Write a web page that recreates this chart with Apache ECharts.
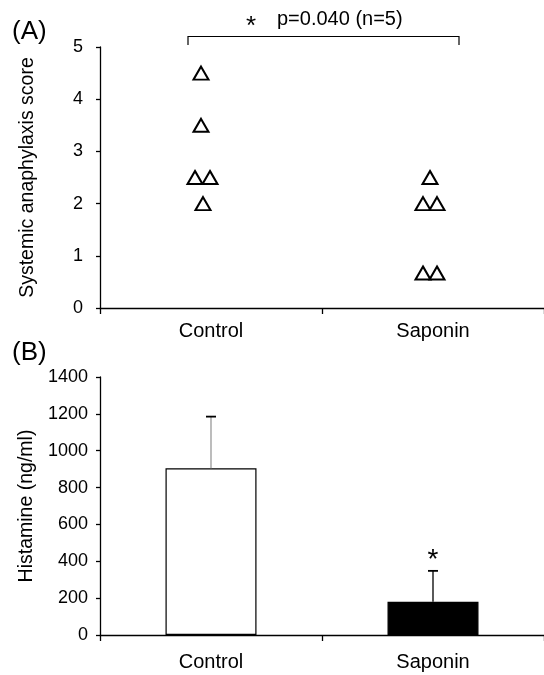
<!DOCTYPE html>
<html>
<head>
<meta charset="utf-8">
<script src="https://cdn.jsdelivr.net/npm/echarts@6/dist/echarts.min.js"></script>
<style>
html,body{margin:0;padding:0;background:#fff;}
#chart{width:544px;height:675px;}
</style>
</head>
<body>
<div id="chart"></div>
<script>
// ---- data ----
var categories = ['Control', 'Saponin'];
var scoreTicks = [0, 1, 2, 3, 4, 5];
var controlScores = [4.5, 3.5, 2.5, 2.5, 2.0];
var saponinScores = [2.5, 2.0, 2.0, 0.67, 0.67];
var histamineMean = [905, 180];
var histamineSD = [280, 168];
var histamineSig = ['', '*'];
var bracketText = 'p=0.040 (n=5)';

// ---- styles (jitter in pixels, not data) ----
var controlJitter = [-10, -10, -16, -1, -8];
var saponinJitter = [-3, -10, 4, -10, 4];

var FONT = 'Liberation Sans, Arial, sans-serif';

function pts(catIdx, vals, jit) {
  return vals.map(function (v, i) {
    return { value: [catIdx, v], symbolOffset: [jit[i], 0] };
  });
}

var chart = echarts.init(document.getElementById('chart'), null, {renderer: 'canvas'});

var axisLine = {show: true, lineStyle: {color: '#000', width: 1.3}};
var plainNum = function (v) { return String(v); };

var option = {
  backgroundColor: '#fff',
  animation: false,
  textStyle: {fontFamily: FONT, color: '#000'},
  grid: [
    {left: 100, top: 47, width: 450, height: 261},
    {left: 100, top: 377, width: 450, height: 258}
  ],
  xAxis: [
    {
      gridIndex: 0, type: 'category', data: categories, boundaryGap: true,
      axisLine: axisLine,
      axisTick: {show: true, length: 6, lineStyle: {color: '#000', width: 1.3}},
      axisLabel: {fontSize: 20, color: '#000', margin: 13, fontFamily: FONT},
      splitLine: {show: false}
    },
    {
      gridIndex: 1, type: 'category', data: categories, boundaryGap: true,
      axisLine: axisLine,
      axisTick: {show: true, length: 6, lineStyle: {color: '#000', width: 1.3}},
      axisLabel: {fontSize: 20, color: '#000', margin: 17, fontFamily: FONT},
      splitLine: {show: false}
    }
  ],
  yAxis: [
    {
      gridIndex: 0, type: 'value', min: scoreTicks[0], max: scoreTicks[scoreTicks.length - 1], interval: 1,
      name: 'Systemic anaphylaxis score', nameLocation: 'middle', nameGap: 62, nameRotate: 90,
      nameTextStyle: {fontSize: 19.5, color: '#000', fontFamily: FONT},
      axisLine: axisLine,
      axisTick: {show: true, length: 4, lineStyle: {color: '#000', width: 1.3}},
      axisLabel: {fontSize: 18, color: '#000', margin: 17, fontFamily: FONT, formatter: plainNum},
      splitLine: {show: false}
    },
    {
      gridIndex: 1, type: 'value', min: 0, max: 1400, interval: 200,
      name: 'Histamine (ng/ml)', nameLocation: 'middle', nameGap: 62, nameRotate: 90,
      nameTextStyle: {fontSize: 19.5, color: '#000', fontFamily: FONT},
      axisLine: axisLine,
      axisTick: {show: true, length: 4, lineStyle: {color: '#000', width: 1.3}},
      axisLabel: {fontSize: 18, color: '#000', margin: 12, fontFamily: FONT, formatter: plainNum},
      splitLine: {show: false}
    }
  ],
  series: [
    {
      type: 'scatter', xAxisIndex: 0, yAxisIndex: 0,
      symbol: 'triangle', symbolSize: [15, 13],
      itemStyle: {color: '#fff', borderColor: '#000', borderWidth: 2, opacity: 1},
      data: pts(0, controlScores, controlJitter)
    },
    {
      type: 'scatter', xAxisIndex: 0, yAxisIndex: 0,
      symbol: 'triangle', symbolSize: [15, 13],
      itemStyle: {color: '#fff', borderColor: '#000', borderWidth: 2, opacity: 1},
      data: pts(1, saponinScores, saponinJitter)
    },
    {
      type: 'bar', xAxisIndex: 1, yAxisIndex: 1, barWidth: 91,
      data: histamineMean.map(function (v, i) {
        return {value: v, itemStyle: {color: i === 0 ? '#fff' : '#000', borderColor: '#000', borderWidth: 1.2}};
      })
    },
    {
      type: 'custom', xAxisIndex: 1, yAxisIndex: 1, z: 5,
      data: histamineMean.map(function (v, i) { return [i, v, histamineSD[i]]; }),
      renderItem: function (params, api) {
        var i = api.value(0);
        var base = api.coord([i, api.value(1)]);
        var top = api.coord([i, api.value(1) + api.value(2)]);
        var children = [
          {type: 'line', shape: {x1: base[0], y1: base[1], x2: top[0], y2: top[1]},
           style: {stroke: params.dataIndex === 0 ? '#999' : '#000', lineWidth: 1.3}},
          {type: 'line', shape: {x1: top[0] - 5, y1: top[1], x2: top[0] + 5, y2: top[1]},
           style: {stroke: '#000', lineWidth: 1.8}}
        ];
        var s = histamineSig[params.dataIndex];
        if (s) {
          children.push({type: 'text', x: top[0], y: top[1] - 11,
            style: {text: s, fontSize: 28, fontFamily: FONT, fill: '#000', align: 'center', verticalAlign: 'middle'}});
        }
        return {type: 'group', children: children};
      }
    }
  ],
  graphic: [
    {type: 'text', left: 12, top: 19, style: {text: '(A)', fontSize: 26, fontFamily: FONT, fill: '#000'}},
    {type: 'text', left: 12, top: 340, style: {text: '(B)', fontSize: 26, fontFamily: FONT, fill: '#000'}},
    {type: 'polyline', shape: {points: [[188, 45], [188, 36.5], [459, 36.5], [459, 45]]},
     style: {stroke: '#000', lineWidth: 1.2, fill: null}},
    {type: 'text', x: 251, y: 27, style: {text: '*', fontSize: 26, fontFamily: FONT, fill: '#000', align: 'center', verticalAlign: 'middle'}},
    {type: 'text', x: 277, y: 19, style: {text: bracketText, fontSize: 20, fontFamily: FONT, fill: '#000', align: 'left', verticalAlign: 'middle'}}
  ]
};
chart.setOption(option);
</script>
</body>
</html>
